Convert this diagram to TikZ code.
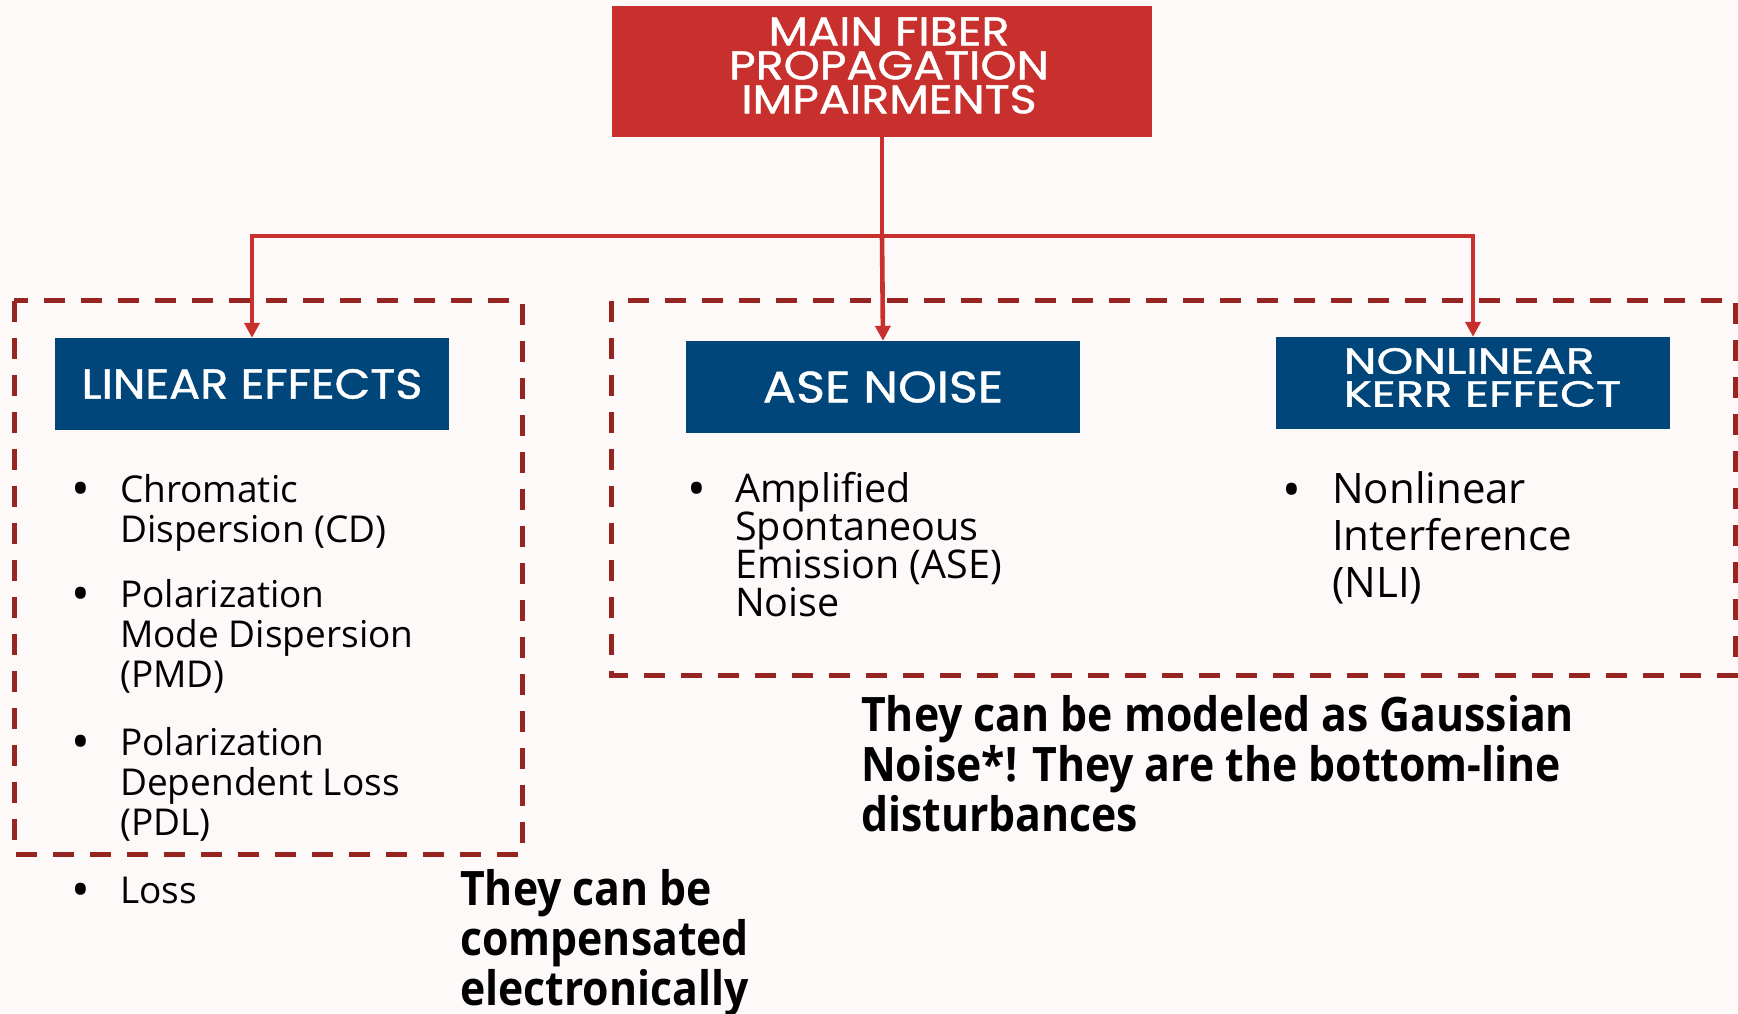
\documentclass[tikz,border=0pt]{standalone}
\usepackage{fontspec}
\setmainfont{Open Sans}
\newfontfamily\headfont{Poppins}[FakeBold=1.0]
\newfontfamily\notefont{Open Sans}[FakeStretch=0.9]
\usetikzlibrary{arrows.meta}

\definecolor{paper}{RGB}{253,249,248}
\definecolor{titlered}{RGB}{200,48,45}
\definecolor{dashred}{RGB}{150,36,32}
\definecolor{navy}{RGB}{0,70,122}

% stacked lines with a fixed line pitch; the box baseline is the first line
\newcommand\leftstack[2]{\vtop{\baselineskip=#1\relax\lineskiplimit=-1000pt\relax
  \let\\\cr\halign{##\hfil\cr#2\cr}}}
\newcommand\centerstack[2]{\vtop{\baselineskip=#1\relax\lineskiplimit=-1000pt\relax
  \let\\\cr\halign{\hfil##\hfil\cr#2\cr}}}

\tikzset{
  headbox/.style={fill=navy, text=white, inner sep=0pt,
    minimum width=394pt, minimum height=92pt},
  wire/.style={draw=titlered, line width=4.6pt},
  tipped/.style={-{Triangle[width=15pt,length=15pt]}},
  group/.style={draw=dashred, line width=5pt, dash pattern=on 21pt off 16pt},
  item/.style={anchor=base west, inner sep=0pt},
  dot/.style={anchor=base, inner sep=0pt, yshift=-4.5pt,
    font=\fontsize{50}{50}\selectfont},
  note/.style={anchor=base west, inner sep=0pt,
    font=\notefont\bfseries\fontsize{47.5}{48}\selectfont},
}

\begin{document}
\begin{tikzpicture}[x=1pt, y=-1pt]
\useasboundingbox[fill=paper] (0,0) rectangle (1738,1013);

% group frames
\draw[group] (14,300.5) rectangle (522,854);
\draw[group] (611.5,300.5) rectangle (1735.5,675);

% title box
\node[fill=titlered, text=white, inner sep=0pt, minimum width=540pt,
      minimum height=131pt, font=\headfont\fontsize{40}{34}\selectfont]
  (top) at (882,71.5)
  {\hspace*{14pt}\raisebox{6pt}[\height][\depth]{\scalebox{1.15}[1]{\centerstack{34pt}{MAIN FIBER\\PROPAGATION\\IMPAIRMENTS}}}};

% category boxes
\node[headbox, font=\headfont\fontsize{42}{42}\selectfont] (lin) at (252,384)
  {\scalebox{1.10}[1]{LINEAR EFFECTS}};
\node[headbox, font=\headfont\fontsize{44}{44}\selectfont] (ase) at (883,387)
  {\scalebox{1.12}[1]{ASE NOISE}};
\node[headbox, font=\headfont\fontsize{36.5}{33}\selectfont] (kerr) at (1473,383)
  {\hspace*{19pt}\raisebox{5.5pt}[\height][\depth]{\scalebox{1.28}[1]{\leftstack{33pt}{NONLINEAR\\KERR EFFECT}}}};

% connectors
\coordinate (bus) at (882,236);
\draw[wire] (top.south) -- (bus);
\draw[wire, tipped] (bus) -| (lin.north);
\draw[wire, tipped] (bus) -- (ase.north);
\draw[wire, tipped] (bus) -| (kerr.north);

% linear effects list
\begin{scope}[every node/.append style={font=\fontsize{37}{40}\selectfont}]
  \node[dot] (l1d) at (81,502) {•};
  \node[item] (l1) at (120,502) {\leftstack{40pt}{Chromatic\\Dispersion (CD)}};
  \node[dot] (l2d) at (81,607) {•};
  \node[item] (l2) at (120,607) {\leftstack{40pt}{Polarization\\Mode Dispersion\\(PMD)}};
  \node[dot] (l3d) at (81,755) {•};
  \node[item] (l3) at (120,755) {\leftstack{40pt}{Polarization\\Dependent Loss\\(PDL)}};
  \node[dot] (l4d) at (81,903) {•};
  \node[item] (l4) at (120,903) {Loss};
\end{scope}

% ASE list
\begin{scope}[every node/.append style={font=\fontsize{39.5}{38.3}\selectfont}]
  \node[dot] (a1d) at (697,502) {•};
  \node[item] (a1) at (735,502) {\leftstack{38.3pt}{Amplified\\Spontaneous\\Emission (ASE)\\Noise}};
\end{scope}

% Kerr list
\begin{scope}[every node/.append style={font=\fontsize{42}{47}\selectfont}]
  \node[dot] (k1d) at (1292,503) {•};
  \node[item] (k1) at (1332,503) {\leftstack{47pt}{Nonlinear\\Interference\\(NLI)}};
\end{scope}

% remarks
\node[note] (gauss) at (861,731)
  {\leftstack{50pt}{They can be modeled as Gaussian\\Noise*! They are the bottom-line\\disturbances}};
\node[note] (comp) at (460,905)
  {\leftstack{50pt}{They can be\\compensated\\electronically}};
\end{tikzpicture}
\end{document}
